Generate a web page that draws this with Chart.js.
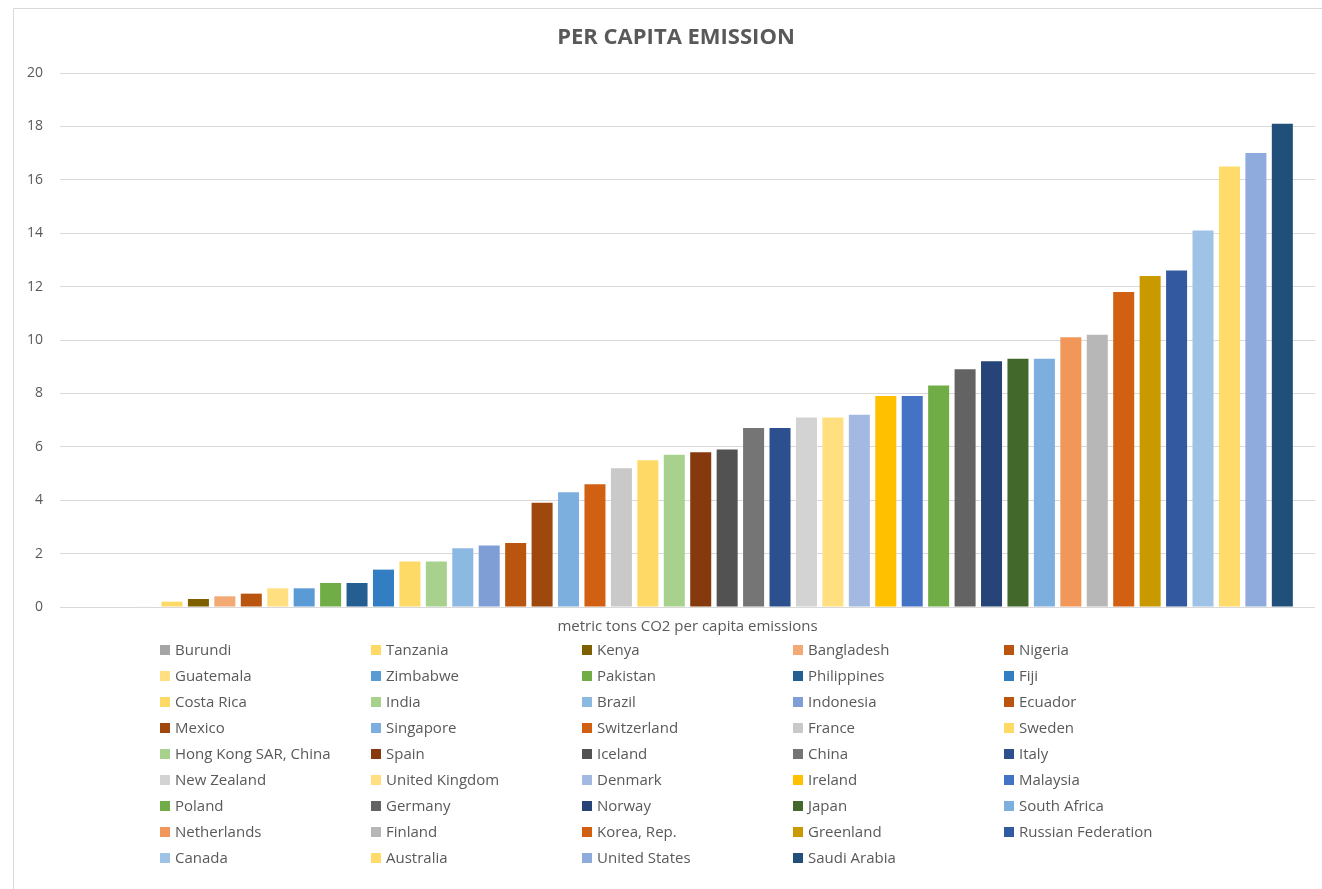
<!DOCTYPE html>
<html lang="en">
<head>
    <meta charset="UTF-8">
    <title>Per Capita Emission</title>
    <script src="https://cdn.jsdelivr.net/npm/chart.js"></script>
    <style>
        body { margin: 0; background: #ffffff; }
        #wrap { width: 1322px; height: 889px; position: relative; }
    </style>
</head>
<body>
    <div id="wrap"><canvas id="chart"></canvas></div>

    <script>
        const category = ['metric tons CO2 per capita emissions'];

        const countries = [
            'Burundi', 'Tanzania', 'Kenya', 'Bangladesh', 'Nigeria',
            'Guatemala', 'Zimbabwe', 'Pakistan', 'Philippines', 'Fiji',
            'Costa Rica', 'India', 'Brazil', 'Indonesia', 'Ecuador',
            'Mexico', 'Singapore', 'Switzerland', 'France', 'Sweden',
            'Hong Kong SAR, China', 'Spain', 'Iceland', 'China', 'Italy',
            'New Zealand', 'United Kingdom', 'Denmark', 'Ireland', 'Malaysia',
            'Poland', 'Germany', 'Norway', 'Japan', 'South Africa',
            'Netherlands', 'Finland', 'Korea, Rep.', 'Greenland', 'Russian Federation',
            'Canada', 'Australia', 'United States', 'Saudi Arabia'
        ];

        const emissions = [
            0.02, 0.2, 0.3, 0.4, 0.5,
            0.7, 0.7, 0.9, 0.9, 1.4,
            1.7, 1.7, 2.2, 2.3, 2.4,
            3.9, 4.3, 4.6, 5.2, 5.5,
            5.7, 5.8, 5.9, 6.7, 6.7,
            7.1, 7.1, 7.2, 7.9, 7.9,
            8.3, 8.9, 9.2, 9.3, 9.3,
            10.1, 10.2, 11.8, 12.4, 12.6,
            14.1, 16.5, 17.0, 18.1
        ];

        const colors = [
            '#A5A5A5', '#FED966', '#7F6000', '#F3A973', '#B9550F',
            '#FFDF80', '#5B9BD5', '#70AD47', '#255E91', '#337DC2',
            '#FDD966', '#A9D18E', '#8CB9E2', '#7E9ED5', '#B9550F',
            '#9E480E', '#7CAFDD', '#D26012', '#C9C9C9', '#FED966',
            '#A9D18E', '#86390C', '#525252', '#757575', '#2C4F8D',
            '#D3D3D3', '#FFDF80', '#A4B9E1', '#FFC000', '#4472C4',
            '#70AD47', '#636363', '#264478', '#43682B', '#7CAFDD',
            '#F1975A', '#B7B7B7', '#D26012', '#C99900', '#335AA1',
            '#9FC3E7', '#FEDB6A', '#8FAADC', '#20507A'
        ];

        const yTicks = [0, 2, 4, 6, 8, 10, 12, 14, 16, 18, 20];

        // Excel leaves two empty slots before the first bar
        const leadingGaps = 2;

        const textColor = '#595959';
        const fontFamily = "'Open Sans', 'Liberation Sans', sans-serif";

        const datasets = [];
        for (let i = 0; i < leadingGaps; i++) {
            datasets.push({ label: '', data: [null], backgroundColor: 'rgba(0,0,0,0)', isGap: true });
        }
        countries.forEach((c, i) => {
            datasets.push({
                label: c,
                data: [emissions[i]],
                backgroundColor: colors[i],
                borderWidth: 0
            });
        });

        const framePlugin = {
            id: 'frame',
            beforeDraw(chart) {
                const ctx = chart.ctx;
                ctx.save();
                ctx.strokeStyle = '#D9D9D9';
                ctx.lineWidth = 1;
                ctx.beginPath();
                ctx.moveTo(13.5, chart.height);
                ctx.lineTo(13.5, 8.5);
                ctx.lineTo(chart.width, 8.5);
                ctx.stroke();
                ctx.restore();
            },
            afterDraw(chart) {
                const ctx = chart.ctx;
                ctx.save();
                // title
                ctx.fillStyle = textColor;
                ctx.font = 'bold 22px ' + fontFamily;
                ctx.textAlign = 'center';
                ctx.textBaseline = 'middle';
                ctx.fillText('PER CAPITA EMISSION', 676, 38);

                // legend, 5 columns
                ctx.font = '15px ' + fontFamily;
                ctx.textAlign = 'left';
                const colX = [160, 371, 582, 793, 1004];
                const rowY0 = 650, rowH = 26;
                let k = 0;
                chart.data.datasets.forEach(ds => {
                    if (ds.isGap) return;
                    const col = k % 5, row = Math.floor(k / 5);
                    const x = colX[col], y = rowY0 + row * rowH;
                    ctx.fillStyle = ds.backgroundColor;
                    ctx.fillRect(x, y - 5, 10, 10);
                    ctx.fillStyle = textColor;
                    ctx.fillText(ds.label, x + 15, y + 1);
                    k++;
                });
                ctx.restore();
            }
        };

        const ctx = document.getElementById('chart').getContext('2d');
        const chart = new Chart(ctx, {
            type: 'bar',
            data: {
                labels: category,
                datasets: datasets
            },
            plugins: [framePlugin],
            options: {
                responsive: true,
                maintainAspectRatio: false,
                animation: false,
                categoryPercentage: 0.969,
                barPercentage: 0.795,
                layout: {
                    padding: { top: 73, right: 7, bottom: 247, left: 0 }
                },
                plugins: {
                    legend: { display: false },
                    title: { display: false },
                    tooltip: { enabled: false }
                },
                scales: {
                    x: {
                        grid: { display: false, drawTicks: false },
                        border: { display: false },
                        ticks: {
                            color: textColor,
                            font: { family: fontFamily, size: 15 },
                            padding: 11
                        },
                        afterFit(scale) { scale.height = 35; }
                    },
                    y: {
                        min: 0,
                        max: 20,
                        afterBuildTicks(scale) {
                            scale.ticks = yTicks.map(v => ({ value: v }));
                        },
                        grid: { color: '#D9D9D9', lineWidth: 1, drawTicks: false },
                        border: { display: false },
                        ticks: {
                            color: textColor,
                            font: { family: fontFamily, size: 14 },
                            padding: 17
                        },
                        afterFit(scale) { scale.width = 60; }
                    }
                }
            }
        });
    </script>
</body>
</html>
